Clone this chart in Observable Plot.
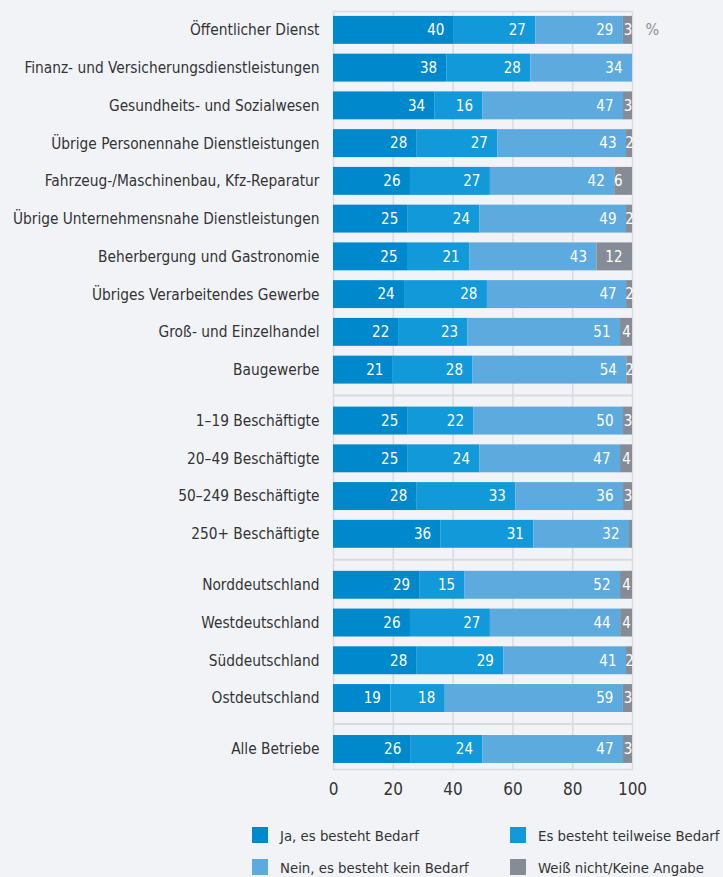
<!DOCTYPE html>
<html><head><meta charset="utf-8">
<script src="https://cdn.jsdelivr.net/npm/d3@7"></script>
<script src="https://cdn.jsdelivr.net/npm/@observablehq/plot@0.6"></script>
<style>
html,body{margin:0;padding:0;background:#f2f3f7;}
body{width:723px;height:877px;position:relative;overflow:hidden;font-family:"DejaVu Sans Condensed","DejaVu Sans",sans-serif;}
#legend{position:absolute;left:252px;top:819px;display:grid;grid-template-columns:258px auto;grid-auto-rows:32px;font-size:14.8px;color:#333;}
.item{display:flex;align-items:center;white-space:nowrap;}
.sw{width:16px;height:16px;margin-right:12px;flex:none;}
</style></head><body><div id="chart"></div><div id="legend"></div>
<script>
const categories = [
  "Öffentlicher Dienst",
  "Finanz- und Versicherungsdienstleistungen",
  "Gesundheits- und Sozialwesen",
  "Übrige Personennahe Dienstleistungen",
  "Fahrzeug-/Maschinenbau, Kfz-Reparatur",
  "Übrige Unternehmensnahe Dienstleistungen",
  "Beherbergung und Gastronomie",
  "Übriges Verarbeitendes Gewerbe",
  "Groß- und Einzelhandel",
  "Baugewerbe",
  "1–19 Beschäftigte",
  "20–49 Beschäftigte",
  "50–249 Beschäftigte",
  "250+ Beschäftigte",
  "Norddeutschland",
  "Westdeutschland",
  "Süddeutschland",
  "Ostdeutschland",
  "Alle Betriebe"
];
const groups =      [0,0,0,0,0,0,0,0,0,0, 1,1,1,1, 2,2,2,2, 3];
const ja =          [40,38,34,28,26,25,25,24,22,21, 25,25,28,36, 29,26,28,19, 26];
const teilweise =   [27,28,16,27,27,24,21,28,23,28, 22,24,33,31, 15,27,29,18, 24];
const nein =        [29,34,47,43,42,49,43,47,51,54, 50,47,36,32, 52,44,41,59, 47];
const weissNicht =  [3, 0, 3, 2, 6, 2, 12,2, 4, 2,  3, 4, 3, 1,  4, 4, 2, 3,  3];
const seriesNames = ["Ja, es besteht Bedarf","Es besteht teilweise Bedarf","Nein, es besteht kein Bedarf","Weiß nicht/Keine Angabe"];
const colors = ["#0088cd","#1199d9","#5caade","#868c96"];
const xTicks = [0,20,40,60,80,100];

const GAP = 0.35;
const pos = categories.map((c,i)=> i + groups[i]*GAP);
const seriesValues = [ja, teilweise, nein, weissNicht];
const rows = [];
categories.forEach((c,i)=>{
  seriesValues.forEach((arr,s)=>rows.push({cat:c, pos:pos[i], series:seriesNames[s], value:arr[i]}));
});
const separators = [];
for (let i=1;i<categories.length;i++) if (groups[i]!==groups[i-1]) separators.push((pos[i]+pos[i-1])/2);
const half = 0.37;
const yMax = pos[pos.length-1] + 0.53;

const grid = "#d9dbe1";
const font = '"DejaVu Sans Condensed","DejaVu Sans",sans-serif';
const chart = Plot.plot({
  width: 723, height: 805,
  marginLeft: 333, marginRight: 91, marginTop: 11, marginBottom: 36,
  style: {fontFamily: font, fontSize: "16px", background: "transparent"},
  x: {domain: [0,1], axis: null},
  y: {domain: [yMax, -0.5], axis: null},
  color: {domain: seriesNames, range: colors},
  marks: [
    Plot.ruleX(xTicks.slice(1,-1).map(v=>v/100), {stroke: grid, strokeWidth: 1.5}),
    Plot.ruleY(separators, {stroke: grid, strokeWidth: 2}),
    Plot.frame({stroke: grid, strokeWidth: 1.5}),
    Plot.rect(rows, Plot.stackX({
      x: "value", y1: d=>d.pos-half, y2: d=>d.pos+half, z: "series", fill: "series",
      offset: "normalize", order: seriesNames
    })),
    Plot.text(rows, Plot.stackX2({
      x: "value", y: "pos", z: "series", offset: "normalize", order: seriesNames,
      text: d=> d.value>=5 ? String(d.value) : "", textAnchor: "end", dx: -10, fill: "white", fontSize: 15
    })),
    Plot.text(rows, Plot.stackX({
      x: "value", y: "pos", z: "series", offset: "normalize", order: seriesNames,
      text: d=> (d.value>=2 && d.value<5) ? String(d.value) : "", textAnchor: "middle", fill: "white", fontSize: 15
    })),
    Plot.text(categories, {x: 0, y: (d,i)=>pos[i], text: d=>d, textAnchor: "end", dx: -14, fill: "#333", fontSize: 15.3}),
    Plot.text(["%"], {x: 1, y: pos[0], text: d=>d, textAnchor: "start", dx: 13, fill: "#8a8f98", fontSize: 16}),
    Plot.axisX(xTicks.map(v=>v/100), {tickFormat: d=>Math.round(d*100), tickSize: 0, tickPadding: 13, fill: "#333", fontSize: 17, anchor: "bottom", label: null})
  ]
});
document.getElementById("chart").appendChild(chart);

const legend = document.getElementById("legend");
[0,1,2,3].forEach(i=>{
  const it = document.createElement("div"); it.className="item";
  const sw = document.createElement("span"); sw.className="sw"; sw.style.background = colors[i];
  const tx = document.createElement("span"); tx.textContent = seriesNames[i];
  it.appendChild(sw); it.appendChild(tx); legend.appendChild(it);
});
</script></body></html>
